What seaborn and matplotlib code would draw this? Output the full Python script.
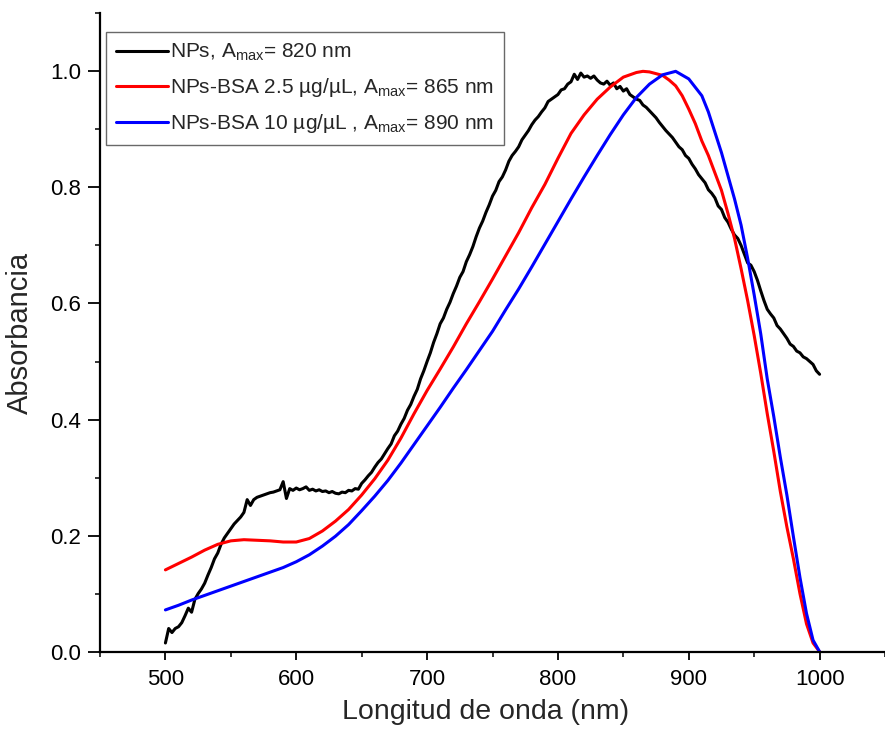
import numpy as np
import pandas as pd
import matplotlib
matplotlib.use("Agg")
import matplotlib.pyplot as plt
import seaborn as sns
from matplotlib.ticker import MultipleLocator, FormatStrFormatter

# ---- data ----
np_x = [500, 502.5, 505, 507.5, 510, 512.5, 515, 517.5, 520, 522.5, 525, 527.5, 530, 532.5, 535,
        537.5, 540, 542.5, 545, 547.5, 550, 552.5, 555, 557.5, 560, 562.5, 565, 567.5, 570, 572.5,
        575, 577.5, 580, 582.5, 585, 587.5, 590, 592.5, 595, 597.5, 600, 602.5, 605, 607.5, 610,
        612.5, 615, 617.5, 620, 622.5, 625, 627.5, 630, 632.5, 635, 637.5, 640, 642.5, 645, 647.5,
        650, 652.5, 655, 657.5, 660, 662.5, 665, 667.5, 670, 672.5, 675, 677.5, 680, 682.5, 685,
        687.5, 690, 692.5, 695, 697.5, 700, 702.5, 705, 707.5, 710, 712.5, 715, 717.5, 720, 722.5,
        725, 727.5, 730, 732.5, 735, 737.5, 740, 742.5, 745, 747.5, 750, 752.5, 755, 757.5, 760,
        762.5, 765, 767.5, 770, 772.5, 775, 777.5, 780, 782.5, 785, 787.5, 790, 792.5, 795, 797.5,
        800, 802.5, 805, 807.5, 810, 812.5, 815, 817.5, 820, 822.5, 825, 827.5, 830, 832.5, 835,
        837.5, 840, 842.5, 845, 847.5, 850, 852.5, 855, 857.5, 860, 862.5, 865, 867.5, 870, 872.5,
        875, 877.5, 880, 882.5, 885, 887.5, 890, 892.5, 895, 897.5, 900, 902.5, 905, 907.5, 910,
        912.5, 915, 917.5, 920, 922.5, 925, 927.5, 930, 932.5, 935, 937.5, 940, 942.5, 945, 947.5,
        950, 952.5, 955, 957.5, 960, 962.5, 965, 967.5, 970, 972.5, 975, 977.5, 980, 982.5, 985,
        987.5, 990, 992.5, 995, 997.5, 1000]
np_y = [0.015, 0.040, 0.033, 0.040, 0.043, 0.050, 0.062, 0.075, 0.068, 0.090, 0.100, 0.108, 0.118,
        0.132, 0.145, 0.160, 0.170, 0.185, 0.196, 0.204, 0.212, 0.220, 0.226, 0.232, 0.240, 0.262,
        0.252, 0.262, 0.266, 0.268, 0.270, 0.272, 0.274, 0.275, 0.277, 0.279, 0.293, 0.264, 0.281,
        0.278, 0.282, 0.279, 0.281, 0.284, 0.278, 0.280, 0.277, 0.279, 0.276, 0.277, 0.274, 0.276,
        0.273, 0.272, 0.275, 0.274, 0.278, 0.277, 0.281, 0.280, 0.290, 0.296, 0.303, 0.309, 0.318,
        0.326, 0.332, 0.341, 0.350, 0.358, 0.372, 0.380, 0.392, 0.402, 0.416, 0.426, 0.440, 0.452,
        0.470, 0.484, 0.500, 0.515, 0.533, 0.548, 0.565, 0.575, 0.590, 0.602, 0.617, 0.630, 0.645,
        0.655, 0.672, 0.684, 0.698, 0.715, 0.730, 0.742, 0.757, 0.770, 0.785, 0.795, 0.810, 0.818,
        0.830, 0.845, 0.855, 0.862, 0.870, 0.882, 0.890, 0.898, 0.908, 0.916, 0.922, 0.930, 0.937,
        0.948, 0.952, 0.956, 0.960, 0.968, 0.970, 0.978, 0.982, 0.995, 0.986, 0.997, 0.990, 0.992,
        0.988, 0.992, 0.985, 0.980, 0.978, 0.983, 0.976, 0.980, 0.970, 0.974, 0.966, 0.970, 0.960,
        0.956, 0.952, 0.950, 0.942, 0.938, 0.932, 0.926, 0.920, 0.912, 0.905, 0.898, 0.892, 0.886,
        0.878, 0.870, 0.865, 0.855, 0.850, 0.840, 0.832, 0.822, 0.815, 0.808, 0.796, 0.790, 0.782,
        0.768, 0.762, 0.748, 0.740, 0.728, 0.718, 0.712, 0.700, 0.685, 0.670, 0.666, 0.655, 0.640,
        0.622, 0.605, 0.590, 0.582, 0.575, 0.562, 0.556, 0.548, 0.540, 0.530, 0.526, 0.518, 0.515,
        0.508, 0.505, 0.500, 0.495, 0.484, 0.478]

bsa25_x = [500, 510, 520, 530, 540, 550, 560, 570, 580, 590, 600, 610, 620, 630, 640, 650, 660,
           670, 680, 690, 700, 710, 720, 730, 740, 750, 760, 770, 780, 790, 800, 810, 820, 830,
           840, 850, 860, 865, 870, 880, 885, 890, 895, 900, 905, 910, 915, 920, 925, 930, 935,
           940, 945, 950, 955, 960, 965, 970, 975, 980, 985, 990, 995, 1000]
bsa25_y = [0.141, 0.152, 0.163, 0.175, 0.185, 0.191, 0.193, 0.192, 0.191, 0.189, 0.189, 0.195,
           0.208, 0.225, 0.245, 0.270, 0.298, 0.330, 0.368, 0.410, 0.450, 0.487, 0.525, 0.565,
           0.603, 0.642, 0.682, 0.722, 0.765, 0.805, 0.850, 0.893, 0.925, 0.952, 0.973, 0.990,
           0.998, 1.000, 0.999, 0.993, 0.985, 0.975, 0.958, 0.935, 0.910, 0.880, 0.855, 0.825,
           0.795, 0.755, 0.712, 0.660, 0.605, 0.545, 0.480, 0.410, 0.345, 0.276, 0.215, 0.160,
           0.100, 0.048, 0.015, 0.000]

bsa10_x = [500, 510, 520, 530, 540, 550, 560, 570, 580, 590, 600, 610, 620, 630, 640, 650, 660,
           670, 680, 690, 700, 710, 720, 730, 740, 750, 760, 770, 780, 790, 800, 810, 820, 830,
           840, 850, 860, 870, 880, 890, 900, 910, 915, 920, 925, 930, 935, 940, 945, 950, 955,
           960, 965, 970, 975, 980, 985, 990, 995, 1000]
bsa10_y = [0.072, 0.080, 0.089, 0.097, 0.105, 0.113, 0.121, 0.129, 0.137, 0.145, 0.155, 0.167,
           0.182, 0.199, 0.219, 0.243, 0.268, 0.295, 0.325, 0.357, 0.389, 0.421, 0.454, 0.486,
           0.519, 0.552, 0.589, 0.625, 0.663, 0.702, 0.741, 0.780, 0.818, 0.855, 0.891, 0.925,
           0.955, 0.978, 0.994, 1.000, 0.987, 0.958, 0.930, 0.895, 0.860, 0.820, 0.780, 0.735,
           0.678, 0.615, 0.548, 0.470, 0.405, 0.335, 0.270, 0.198, 0.128, 0.066, 0.020, 0.000]

labels = [r"NPs, A$_{\mathregular{max}}$= 820 nm",
          r"NPs-BSA 2.5 µg/µL, A$_{\mathregular{max}}$= 865 nm",
          r"NPs-BSA 10 µg/µL , A$_{\mathregular{max}}$= 890 nm"]
colors = ["#000000", "#ff0000", "#0000ff"]
xlabel = "Longitud de onda (nm)"
ylabel = "Absorbancia"

# ---- build frame ----
frames = []
for xs, ys, lab in [(np_x, np_y, labels[0]), (bsa25_x, bsa25_y, labels[1]), (bsa10_x, bsa10_y, labels[2])]:
    frames.append(pd.DataFrame({"x": xs, "y": ys, "serie": lab}))
df = pd.concat(frames, ignore_index=True)

sns.set_style("ticks")
plt.rcParams["font.family"] = ["Liberation Sans", "DejaVu Sans"]
plt.rcParams["mathtext.fontset"] = "custom"
plt.rcParams["mathtext.rm"] = "Liberation Sans"
plt.rcParams["mathtext.it"] = "Liberation Sans"

fig = plt.figure(figsize=(8.85, 7.3), dpi=100)
ax = fig.add_axes([100 / 885, 1 - 651.7 / 730, 785 / 885, (651.7 - 13.3) / 730])

sns.lineplot(data=df, x="x", y="y", hue="serie", palette=dict(zip(labels, colors)),
             hue_order=labels, sort=False, estimator=None, linewidth=2.2, ax=ax)

ax.set_xlim(450, 1050)
ax.set_ylim(0, 1.1)
ax.xaxis.set_major_locator(MultipleLocator(100))
ax.xaxis.set_minor_locator(MultipleLocator(50))
ax.yaxis.set_major_locator(MultipleLocator(0.2))
ax.yaxis.set_minor_locator(MultipleLocator(0.1))
ax.yaxis.set_major_formatter(FormatStrFormatter("%.1f"))

for side in ["top", "right"]:
    ax.spines[side].set_visible(False)
for side in ["left", "bottom"]:
    ax.spines[side].set_linewidth(1.6)
    ax.spines[side].set_color("black")

ax.tick_params(axis="both", which="major", direction="out", width=1.3, labelsize=16,
               colors="black")
ax.tick_params(axis="x", which="major", length=5.5, pad=7)
ax.tick_params(axis="y", which="major", length=8.5, pad=5)
ax.tick_params(axis="both", which="minor", direction="out", width=1.3, length=3.6)

ax.set_xlabel(xlabel, fontsize=20.5)
ax.xaxis.set_label_coords(0.491, -0.074)
ax.set_ylabel(ylabel, fontsize=21, labelpad=12)

handles, labs = ax.get_legend_handles_labels()
leg = ax.legend(handles, labs, loc="upper left", bbox_to_anchor=(0.0076, 0.9707),
                borderaxespad=0, frameon=True, fancybox=False, fontsize=15.0,
                handlelength=2.5, handletextpad=0.1, labelspacing=0.62, borderpad=0.48,
                title=None)
leg.get_frame().set_edgecolor("#444444")
leg.get_frame().set_linewidth(1.0)
for line in leg.get_lines():
    line.set_linewidth(2.2)

fig.savefig("out.png", dpi=100)
